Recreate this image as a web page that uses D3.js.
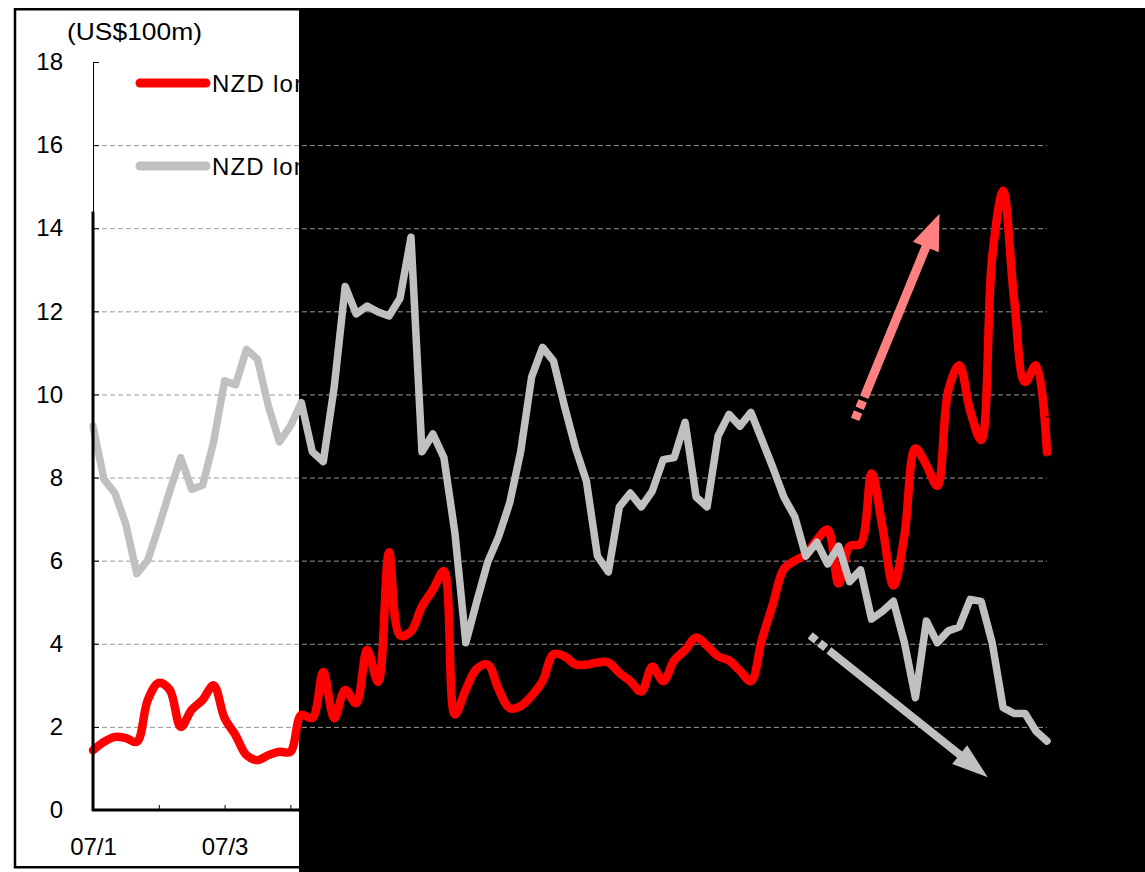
<!DOCTYPE html>
<html>
<head>
<meta charset="utf-8">
<script src="https://cdn.jsdelivr.net/npm/d3@7"></script>
<style>
  html, body { margin: 0; padding: 0; background: #fff; }
  svg { display: block; }
  text { font-family: Arial, "Liberation Sans", sans-serif; }
</style>
</head>
<body>
<svg id="chart" width="1145" height="872"></svg>
<script>
// Weekly observations, first week of Jan 2007 onwards
const tickLabels = ["07/1", "07/3", "07/6", "07/9", "07/12", "08/2", "08/5", "08/8"];

// NZD long positions on the Tokyo Financial Exchange (US$100m, left axis)
const tfxLong = [1.44, 1.64, 1.76, 1.73, 1.64, 2.65, 3.06, 2.89, 2.0, 2.41,
  2.65, 3.0, 2.21, 1.80, 1.32, 1.20, 1.32, 1.40, 1.40, 2.29,
  2.21, 3.32, 2.21, 2.89, 2.57, 3.85, 3.08, 6.2, 4.2, 4.3,
  4.9, 5.3, 5.75, 2.3, 2.9, 3.4, 3.5, 2.9, 2.45, 2.5,
  2.75, 3.1, 3.75, 3.7, 3.5, 3.5, 3.55, 3.55, 3.3, 3.1,
  2.85, 3.45, 3.1, 3.6, 3.85, 4.15, 3.95, 3.7, 3.6, 3.35,
  3.1, 4.1, 4.95, 5.8, 6.0, 6.15, 6.5, 6.75, 5.45, 6.35,
  6.4, 8.1, 6.8, 5.4, 6.6, 8.7, 8.3, 7.8, 10.1, 10.7,
  9.6, 8.9, 13.3, 14.9, 12.3, 10.3, 10.7, 8.6];

// NZD long positions on the Chicago Mercantile Exchange (US$bn, right axis)
const cmeLong = [1.35, 1.08, 1.01, 0.85, 0.60, 0.67, 0.84, 1.02, 1.19, 1.03,
  1.05, 1.27, 1.58, 1.56, 1.74, 1.69, 1.45, 1.27, 1.35, 1.47,
  1.22, 1.17, 1.55, 2.06, 1.92, 1.96, 1.93, 1.91, 2.00, 2.31,
  1.22, 1.31, 1.19, 0.81, 0.25, 0.46, 0.66, 0.79, 0.96, 1.22,
  1.60, 1.75, 1.68, 1.45, 1.24, 1.07, 0.69, 0.61, 0.94, 1.01,
  0.94, 1.02, 1.18, 1.19, 1.37, 0.99, 0.94, 1.30, 1.41, 1.35,
  1.42, 1.28, 1.14, 0.99, 0.89, 0.69, 0.76, 0.65, 0.74, 0.56,
  0.62, 0.37, 0.41, 0.46, 0.25, -0.03, 0.36, 0.25, 0.31, 0.33,
  0.47, 0.46, 0.25, -0.08, -0.11, -0.11, -0.20, -0.25];

const leftTicks = [0, 2, 4, 6, 8, 10, 12, 14, 16, 18];
const gridValues = [2, 4, 6, 8, 10, 12, 14, 16];
const rightTicks = [-0.6, -0.4, -0.2, 0, 0.2, 0.4, 0.6, 0.8, 1.0, 1.2, 1.4, 1.6,
  1.8, 2.0, 2.2, 2.4, 2.6, 2.8, 3.0, 3.2];

const legendLabels = [
  "NZD long positions on the Tokyo Financial Exchange (lhs)",
  "NZD long positions on the Chicago Mercantile Exchange (rhs)"
];

// Trend arrows, in week index / left-axis units
const trendArrows = [
  { from: [69.5, 9.4], to: [77.2, 14.35], color: "#ff8080", width: 9, headLen: 36, headHalf: 14 },
  { from: [65.4, 4.2], to: [81.6, 0.79], color: "#c0c0c0", width: 8, headLen: 36, headHalf: 12 }
];

const svg = d3.select("#chart");
const W = 1145, H = 872;
const plot = { left: 93, right: 1051, top: 62, bottom: 810 };
const lastX = 1047;

const x = d3.scaleLinear().domain([0, tfxLong.length - 1]).range([plot.left, lastX]);
const yL = d3.scaleLinear().domain([0, 18]).range([plot.bottom, plot.top]);
const yR = d3.scaleLinear().domain([-0.6, 3.2]).range([plot.bottom, plot.top]);

// background and dark panel
svg.append("rect").attr("width", W).attr("height", H).attr("fill", "#fff");
svg.append("rect").attr("x", 299).attr("y", 8).attr("width", W - 299).attr("height", H - 8).attr("fill", "#000");

// dashed gridlines
svg.append("g").selectAll("line").data(gridValues).join("line")
  .attr("x1", plot.left + 1).attr("x2", lastX)
  .attr("y1", d => yL(d) + 0.5).attr("y2", d => yL(d) + 0.5)
  .attr("stroke", "#999").attr("stroke-width", 1)
  .attr("stroke-dasharray", "5,3");

// series lines
const redLine = d3.line().x((d, i) => x(i)).y(d => yL(d)).curve(d3.curveCatmullRom.alpha(0.5));
const grayLine = d3.line().x((d, i) => x(i)).y(d => yR(d));

svg.append("path").datum(tfxLong).attr("d", redLine)
  .attr("fill", "none").attr("stroke", "#ff0000").attr("stroke-width", 8.5)
  .attr("stroke-linejoin", "round").attr("stroke-linecap", "round");

svg.append("path").datum(cmeLong).attr("d", grayLine)
  .attr("fill", "none").attr("stroke", "#c0c0c0").attr("stroke-width", 7.5)
  .attr("stroke-linejoin", "round").attr("stroke-linecap", "round");

// arrows
trendArrows.forEach(a => {
  const p0 = [x(a.from[0]), yL(a.from[1])];
  const p1 = [x(a.to[0]), yL(a.to[1])];
  const dx = p1[0] - p0[0], dy = p1[1] - p0[1];
  const len = Math.hypot(dx, dy);
  const ux = dx / len, uy = dy / len;
  const nx = -uy, ny = ux;
  const neck = [p1[0] - ux * a.headLen, p1[1] - uy * a.headLen];
  svg.append("line")
    .attr("x1", p0[0]).attr("y1", p0[1])
    .attr("x2", neck[0] + ux * 2).attr("y2", neck[1] + uy * 2)
    .attr("stroke", a.color).attr("stroke-width", a.width)
    .attr("stroke-dasharray", "8,4,8,4," + (len * 2));
  svg.append("path")
    .attr("d", d3.line()([p1,
      [neck[0] + nx * a.headHalf, neck[1] + ny * a.headHalf],
      [neck[0] - nx * a.headHalf, neck[1] - ny * a.headHalf]]) + "Z")
    .attr("fill", a.color);
});

// left axis
const axL = svg.append("g").attr("transform", `translate(${plot.left},0)`)
  .call(d3.axisLeft(yL).tickValues(leftTicks).tickSizeInner(-6).tickSizeOuter(0).tickPadding(30).tickFormat(d3.format("d")));
axL.select(".domain").attr("stroke", "#000").attr("stroke-width", 1);
axL.selectAll(".tick line").attr("stroke", "#000");
axL.selectAll("text").attr("font-size", 24).attr("fill", "#000");
svg.append("line").attr("x1", plot.left).attr("x2", plot.left)
  .attr("y1", yL(14.4)).attr("y2", plot.bottom + 1)
  .attr("stroke", "#000").attr("stroke-width", 3);

// right axis
const axR = svg.append("g").attr("transform", `translate(${plot.right},0)`)
  .call(d3.axisRight(yR).tickValues(rightTicks).tickSizeInner(-5).tickSizeOuter(0).tickPadding(22).tickFormat(d3.format(".1f")));
axR.select(".domain").attr("stroke", "#000");
axR.selectAll(".tick line").attr("stroke", "#000");
axR.selectAll("text").attr("font-size", 24).attr("fill", "#000");

// bottom axis (a tick every six weeks, a label every twelve)
const weekTicks = d3.range(0, tfxLong.length, 6);
const axB = svg.append("g").attr("transform", `translate(0,${plot.bottom})`)
  .call(d3.axisBottom(x).tickValues(weekTicks).tickSizeInner(-5).tickSizeOuter(0).tickPadding(28)
    .tickFormat(d => d % 12 === 0 ? tickLabels[d / 12] : ""));
axB.select(".domain").attr("stroke", "#000").attr("stroke-width", 3)
  .attr("d", `M${plot.left - 1},0H${plot.right}`);
axB.selectAll(".tick line").attr("stroke", "#000");
axB.selectAll("text").attr("font-size", 24).attr("fill", "#000");

// axis units
svg.append("text").attr("x", 67).attr("y", 40).attr("font-size", 24)
  .attr("textLength", 135).attr("lengthAdjust", "spacingAndGlyphs").text("(US$100m)");
svg.append("text").attr("x", 992).attr("y", 40).attr("font-size", 24)
  .attr("textLength", 96).attr("lengthAdjust", "spacingAndGlyphs").text("(US$bn)");
svg.append("text").attr("x", 1060).attr("y", 856).attr("font-size", 24)
  .attr("textLength", 60).attr("lengthAdjust", "spacingAndGlyphs").text("(Y/M)");

// legend
const legend = svg.append("g");
const legendRows = [
  { label: legendLabels[0], color: "#ff0000", y: 83, len: 683 },
  { label: legendLabels[1], color: "#c0c0c0", y: 166, len: 726 }
];
legendRows.forEach(r => {
  legend.append("line").attr("x1", 140).attr("x2", 206).attr("y1", r.y).attr("y2", r.y)
    .attr("stroke", r.color).attr("stroke-width", 9).attr("stroke-linecap", "round");
  legend.append("text").attr("x", 212).attr("y", r.y + 8.5).attr("font-size", 24)
    .attr("textLength", r.len).attr("lengthAdjust", "spacing").attr("fill", "#000").text(r.label);
});

// outer frame
svg.append("rect").attr("x", 15).attr("y", 9.25).attr("width", W).attr("height", 858)
  .attr("fill", "none").attr("stroke", "#000").attr("stroke-width", 2.5);
</script>
</body>
</html>
